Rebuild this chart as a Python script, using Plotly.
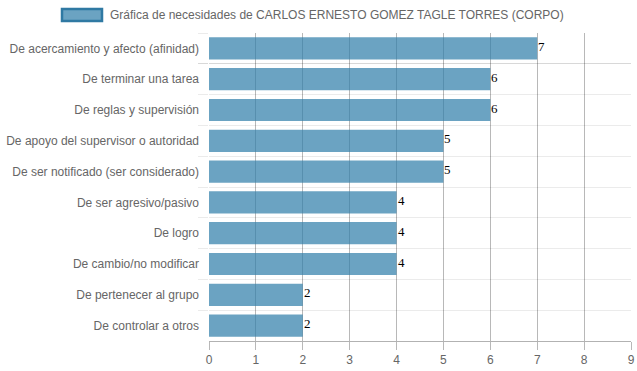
import plotly.graph_objects as go

categories = [
    "De acercamiento y afecto (afinidad)",
    "De terminar una tarea",
    "De reglas y supervisión",
    "De apoyo del supervisor o autoridad",
    "De ser notificado (ser considerado)",
    "De ser agresivo/pasivo",
    "De logro",
    "De cambio/no modificar",
    "De pertenecer al grupo",
    "De controlar a otros",
]
values = [7, 6, 6, 5, 5, 4, 4, 4, 2, 2]
legend_title = "Gráfica de necesidades de CARLOS ERNESTO GOMEZ TAGLE TORRES (CORPO)"
x_ticks = list(range(0, 10))

fig = go.Figure()
fig.add_trace(go.Bar(
    x=values, y=categories, orientation="h",
    marker=dict(color="rgba(50,128,170,0.72)", line=dict(width=0)),
    showlegend=False, hoverinfo="x+y",
))

for v, c in zip(values, categories):
    fig.add_annotation(x=v, y=c, text=str(v), showarrow=False,
                       xanchor="left", yanchor="middle", xshift=-1, yshift=2,
                       font=dict(family="Liberation Serif", size=13, color="#000"))

fig.update_layout(
    width=637, height=371,
    margin=dict(l=209, r=6, t=33, b=30, autoexpand=False),
    paper_bgcolor="white", plot_bgcolor="white",
    bargap=0.28,
    font=dict(family="Liberation Sans", size=12, color="#666"),
    xaxis=dict(
        range=[0, 9], tickvals=x_ticks, showgrid=True,
        gridcolor="rgba(0,0,0,0.28)", gridwidth=1,
        ticks="outside", ticklen=8, tickcolor="rgba(0,0,0,0.28)",
        showline=True, linecolor="rgba(0,0,0,0.3)", zeroline=False,
        tickfont=dict(size=12, color="#666"),
    ),
    yaxis=dict(
        type="category", categoryorder="array", categoryarray=categories,
        autorange="reversed", tickson="boundaries", showgrid=True,
        gridcolor="rgba(0,0,0,0.08)", ticks="outside", ticklen=10,
        tickcolor="rgba(0,0,0,0.08)", showline=False, zeroline=False,
        ticklabelstandoff=9,
        tickfont=dict(size=12, color="#666"),
    ),
)

fig.add_shape(type="rect", xref="paper", yref="paper",
              x0=(62 - 209) / 422, x1=(102 - 209) / 422,
              y0=(371 - 30 - 21) / 308 , y1=(371 - 30 - 9) / 308,
              fillcolor="rgba(50,128,170,0.72)",
              line=dict(color="#2f79a3", width=2.5))
fig.add_annotation(text=legend_title, xref="paper", yref="paper",
                   x=(108 - 209) / 422, y=(371 - 30 - 15) / 308,
                   xanchor="left", yanchor="middle", showarrow=False,
                   font=dict(family="Liberation Sans", size=12, color="#666"))

fig.write_html("out.html", config={"displayModeBar": False},
               post_script="document.body.style.margin='0';document.body.style.overflow='hidden';")
